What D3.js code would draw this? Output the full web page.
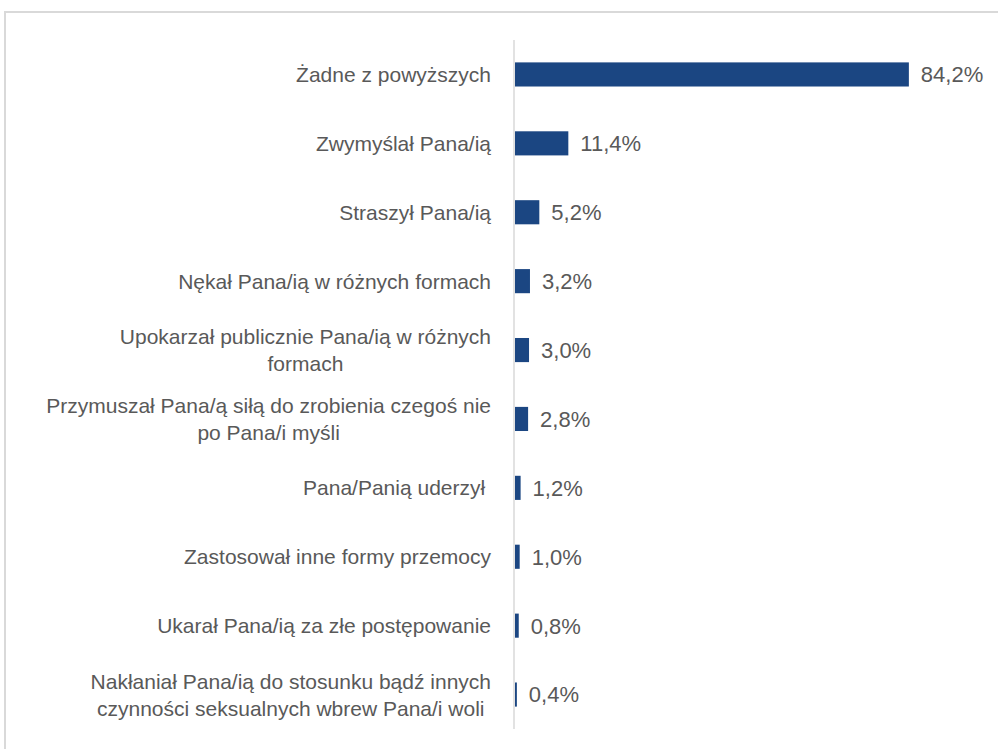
<!DOCTYPE html>
<html>
<head>
<meta charset="utf-8">
<script src="https://cdn.jsdelivr.net/npm/d3@7"></script>
<style>
  body { margin: 0; background: #fff; }
  svg { display: block; }
  text { white-space: pre; }
</style>
</head>
<body>
<svg id="chart" width="998" height="749"></svg>
<script>
// Data
const categories = [
  "Żadne z powyższych",
  "Zwymyślał Pana/ią",
  "Straszył Pana/ią",
  "Nękał Pana/ią w różnych formach",
  "Upokarzał publicznie Pana/ią w różnych formach",
  "Przymuszał Pana/ą siłą do zrobienia czegoś nie po Pana/i myśli",
  "Pana/Panią uderzył ",
  "Zastosował inne formy przemocy",
  "Ukarał Pana/ią za złe postępowanie",
  "Nakłaniał Pana/ią do stosunku bądź innych czynności seksualnych wbrew Pana/i woli"
];
const values = [84.2, 11.4, 5.2, 3.2, 3.0, 2.8, 1.2, 1.0, 0.8, 0.4];

const font = "'Liberation Sans', Arial, sans-serif";
const svg = d3.select("#chart");

// frame (chart area border)
svg.append("path")
  .attr("d", "M5,749 V12 H998")
  .attr("fill", "none")
  .attr("stroke", "#d9d9d9")
  .attr("stroke-width", 2);

const x = d3.scaleLinear().domain([0, 90]).range([514, 935]);
const y = d3.scaleBand()
  .domain(categories)
  .range([40, 729])
  .paddingInner(0.65)
  .paddingOuter(0.325);

// axis line
svg.append("line")
  .attr("x1", x(0)).attr("x2", x(0))
  .attr("y1", 40).attr("y2", 729)
  .attr("stroke", "#d9d9d9")
  .attr("stroke-width", 1.5);

// bars
svg.selectAll("rect.bar")
  .data(values)
  .join("rect")
  .attr("class", "bar")
  .attr("x", x(0) + 1)
  .attr("y", (d, i) => y(categories[i]))
  .attr("width", (d) => x(d) - x(0))
  .attr("height", y.bandwidth())
  .attr("fill", "#1b4682");

// value labels
svg.selectAll("text.val")
  .data(values)
  .join("text")
  .attr("class", "val")
  .attr("x", (d) => x(d) + 13)
  .attr("y", (d, i) => y(categories[i]) + y.bandwidth() / 2)
  .attr("dy", "0.36em")
  .attr("font-family", font)
  .attr("font-size", 22)
  .attr("fill", "#595959")
  .text((d) => d.toFixed(1).replace(".", ",") + "%");

// category labels, wrapped and centered like Excel
const labelRight = 491;
const maxW = 448;
const lineH = 27;

categories.forEach((c) => {
  const t = svg.append("text")
    .attr("font-family", font)
    .attr("font-size", 21)
    .attr("fill", "#595959")
    .attr("text-anchor", "middle");
  const words = c.split(" ");
  const lines = [];
  let cur = [];
  const probe = t.append("tspan");
  words.forEach((w) => {
    cur.push(w);
    probe.text(cur.join(" "));
    if (probe.node().getComputedTextLength() > maxW && cur.length > 1) {
      cur.pop();
      lines.push(cur.join(" "));
      cur = [w];
    }
  });
  lines.push(cur.join(" "));
  probe.remove();

  const widths = lines.map((l) => {
    const s = t.append("tspan").text(l);
    const w = s.node().getComputedTextLength();
    s.remove();
    return w;
  });
  const blockW = d3.max(widths);
  const cx = labelRight - blockW / 2;
  const cy = y(c) + y.bandwidth() / 2;
  const top = cy - ((lines.length - 1) * lineH) / 2;
  lines.forEach((l, i) => {
    t.append("tspan")
      .attr("x", cx)
      .attr("y", top + i * lineH)
      .attr("dy", "0.36em")
      .text(l);
  });
});
</script>
</body>
</html>
